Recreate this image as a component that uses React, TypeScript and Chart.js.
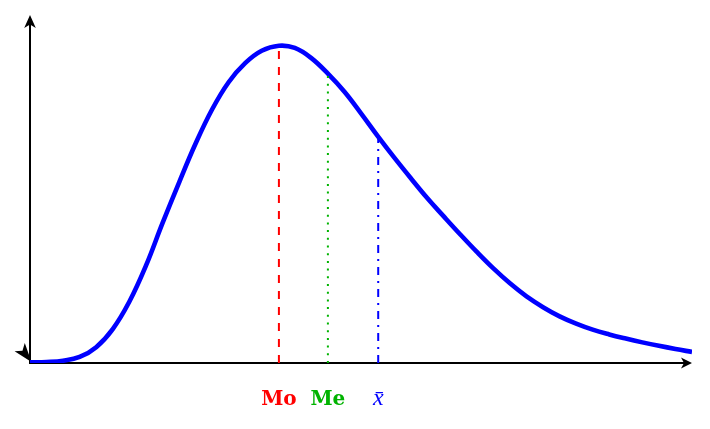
import { useEffect, useRef } from "react";
import { Chart, ChartConfiguration, Plugin, registerables } from "chart.js";

Chart.register(...registerables);

// density curve (peak scaled to 1)
const curveX = [0, 0.25, 0.5, 0.75, 1, 1.25, 1.5, 1.75, 2, 2.25, 2.5, 2.75, 3, 3.25, 3.5, 3.76, 4, 4.25, 4.5, 4.75, 5, 5.25, 5.5, 5.75, 6, 6.25, 6.5, 6.75, 7, 7.25, 7.5, 7.75, 8, 8.25, 8.5, 8.75, 9, 9.25, 9.5, 9.75, 10];
const curveY = [0.002, 0.003, 0.007, 0.019, 0.05, 0.107, 0.193, 0.306, 0.44, 0.568, 0.691, 0.799, 0.885, 0.945, 0.984, 1.0, 0.993, 0.961, 0.912, 0.855, 0.787, 0.716, 0.648, 0.583, 0.52, 0.462, 0.405, 0.35, 0.298, 0.251, 0.21, 0.176, 0.147, 0.124, 0.105, 0.09, 0.077, 0.065, 0.054, 0.044, 0.035];

// mode, median, mean
const markerNames = ["Mo", "Me", "x\u0304"];
const markerX = [3.76, 4.5, 5.26];
const markerY = [1.0, 0.912, 0.713];
const markerColors = ["#ff0000", "rgb(0,179,0)", "#0000ff"];
const markerDashes = [[8, 8], [2, 5.7], [8, 6, 2, 6]];
const markerFonts = [
  "bold 20px 'DejaVu Serif'",
  "bold 20px 'DejaVu Serif'",
  "italic 24px 'Liberation Serif', 'DejaVu Serif'",
];

const xMax = 10;
const yMax = 1.1;

function arrowHead(ctx: CanvasRenderingContext2D, x: number, y: number, angle: number, len: number, half: number, inset: number) {
  ctx.save();
  ctx.translate(x, y);
  ctx.rotate(angle);
  ctx.beginPath();
  ctx.moveTo(0, 0);
  ctx.lineTo(-len, -half);
  ctx.lineTo(-len + inset, 0);
  ctx.lineTo(-len, half);
  ctx.closePath();
  ctx.fillStyle = "#000";
  ctx.fill();
  ctx.restore();
}

const axesPlugin: Plugin = {
  id: "axesArrows",
  beforeDatasetsDraw(chart) {
    const { ctx, chartArea } = chart;
    const ox = chart.scales.x.getPixelForValue(0);
    const oy = chart.scales.y.getPixelForValue(0);
    const right = chartArea.right;
    const top = chartArea.top + 1;
    ctx.save();
    ctx.strokeStyle = "#000";
    ctx.lineWidth = 2;
    ctx.lineCap = "butt";
    ctx.beginPath();
    ctx.moveTo(ox - 1, oy);
    ctx.lineTo(right - 6, oy);
    ctx.moveTo(ox, oy + 1);
    ctx.lineTo(ox, top + 6);
    ctx.stroke();
    arrowHead(ctx, right, oy, 0, 11, 5.5, 3);
    arrowHead(ctx, ox, top, -Math.PI / 2, 13, 5.8, 3.5);
    arrowHead(ctx, ox + 1.5, oy - 1, 0.9, 19, 6.5, 4.5);
    ctx.restore();
  },
  afterDraw(chart) {
    const { ctx } = chart;
    const oy = chart.scales.y.getPixelForValue(0);
    ctx.save();
    ctx.textAlign = "center";
    ctx.textBaseline = "alphabetic";
    markerNames.forEach((name, i) => {
      ctx.font = markerFonts[i];
      ctx.fillStyle = markerColors[i];
      ctx.fillText(name, chart.scales.x.getPixelForValue(markerX[i]), oy + 42);
    });
    ctx.restore();
  },
};

export default function App() {
  const chartRef = useRef<HTMLCanvasElement>(null);
  const chartInstance = useRef<Chart | null>(null);

  useEffect(() => {
    if (!chartRef.current) return;
    const ctx = chartRef.current.getContext("2d");
    if (!ctx) return;

    if (chartInstance.current) {
      chartInstance.current.destroy();
    }

    const markerSets = markerNames.map((name, i) => ({
      label: name,
      data: [
        { x: markerX[i], y: 0 },
        { x: markerX[i], y: markerY[i] },
      ],
      borderColor: markerColors[i],
      borderWidth: 2,
      borderDash: markerDashes[i],
      borderCapStyle: "butt" as const,
      pointRadius: 0,
      tension: 0,
      fill: false,
      order: 0,
    }));

    const config: ChartConfiguration = {
      type: "line",
      data: {
        datasets: [
          ...markerSets,
          {
            label: "density",
            data: curveX.map((x, i) => ({ x, y: curveY[i] })),
            borderColor: "#0000ff",
            borderWidth: 4.6,
            borderJoinStyle: "round",
            borderCapStyle: "butt",
            tension: 0.4,
            pointRadius: 0,
            fill: false,
            order: 1,
          },
        ],
      },
      options: {
        responsive: true,
        maintainAspectRatio: false,
        animation: false,
        layout: { padding: { left: 30, right: 18, top: 14, bottom: 66 } },
        plugins: {
          legend: { display: false },
          tooltip: { enabled: false },
        },
        scales: {
          x: { type: "linear", min: 0, max: xMax, display: false },
          y: { type: "linear", min: 0, max: yMax, display: false },
        },
      },
      plugins: [axesPlugin],
    };

    chartInstance.current = new Chart(ctx, config);

    return () => {
      if (chartInstance.current) {
        chartInstance.current.destroy();
        chartInstance.current = null;
      }
    };
  }, []);

  return (
    <div style={{ position: "absolute", left: 0, top: 0, width: 710, height: 429, background: "#fff" }}>
      <canvas ref={chartRef} />
    </div>
  );
}
